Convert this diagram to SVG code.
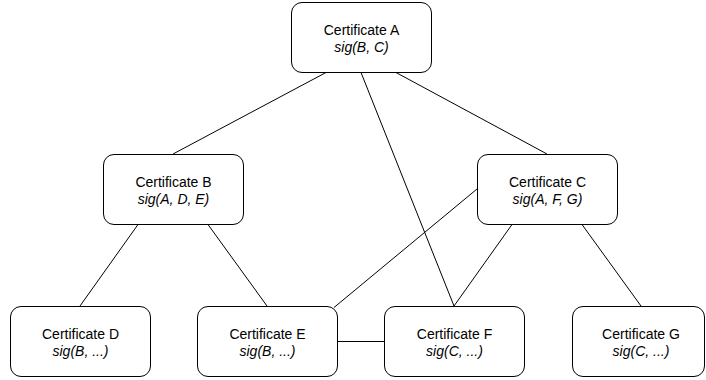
<svg xmlns="http://www.w3.org/2000/svg" width="706" height="380" viewBox="0 0 706 380">
<style>
.box{fill:#fff;stroke:#000;stroke-width:1}
.edge{fill:none;stroke:#000;stroke-width:1}
.t{font-family:"Liberation Sans",Arial,sans-serif;font-size:14px;fill:#000;text-anchor:middle}
.i{font-style:italic}
</style>
<rect width="706" height="380" fill="#fff"/>
<g id="connectors">
<line class="edge" x1="326" y1="72.5" x2="173" y2="154"/>
<line class="edge" x1="396" y1="72.5" x2="547" y2="154"/>
<line class="edge" x1="361" y1="72.5" x2="454" y2="306"/>
<line class="edge" x1="138" y1="224.5" x2="80" y2="306"/>
<line class="edge" x1="208" y1="224.5" x2="267" y2="306"/>
<line class="edge" x1="477" y1="189" x2="334" y2="307.5"/>
<line class="edge" x1="512" y1="224.5" x2="454" y2="306"/>
<line class="edge" x1="582" y1="224.5" x2="641" y2="306"/>
<line class="edge" x1="337" y1="341.5" x2="384" y2="341.5"/>
</g>
<g id="nodeA">
<rect class="box" x="291.5" y="2.5" width="140" height="70" rx="10.5"/>
<text class="t" x="361.5" y="35">Certificate A</text>
<text class="t i" x="361.5" y="51.5">sig(B, C)</text>
</g>
<g id="nodeB">
<rect class="box" x="103.5" y="154.5" width="140" height="70" rx="10.5"/>
<text class="t" x="173.5" y="186.5">Certificate B</text>
<text class="t i" x="173.5" y="203.5">sig(A, D, E)</text>
</g>
<g id="nodeC">
<rect class="box" x="477.5" y="154.5" width="140" height="70" rx="10.5"/>
<text class="t" x="547.5" y="186.5">Certificate C</text>
<text class="t i" x="547.5" y="203.5">sig(A, F, G)</text>
</g>
<g id="nodeD">
<rect class="box" x="10.5" y="306.5" width="140" height="70" rx="10.5"/>
<text class="t" x="80.5" y="338.5">Certificate D</text>
<text class="t i" x="80.5" y="355.5">sig(B, ...)</text>
</g>
<g id="nodeE">
<rect class="box" x="197.5" y="306.5" width="140" height="70" rx="10.5"/>
<text class="t" x="267.5" y="338.5">Certificate E</text>
<text class="t i" x="267.5" y="355.5">sig(B, ...)</text>
</g>
<g id="nodeF">
<rect class="box" x="384.5" y="306.5" width="140" height="70" rx="10.5"/>
<text class="t" x="454.5" y="338.5">Certificate F</text>
<text class="t i" x="454.5" y="355.5">sig(C, ...)</text>
</g>
<g id="nodeG">
<rect class="box" x="572.5" y="306.5" width="132" height="70" rx="10.5"/>
<text class="t" x="641" y="338.5">Certificate G</text>
<text class="t i" x="641" y="355.5">sig(C, ...)</text>
</g>
</svg>
